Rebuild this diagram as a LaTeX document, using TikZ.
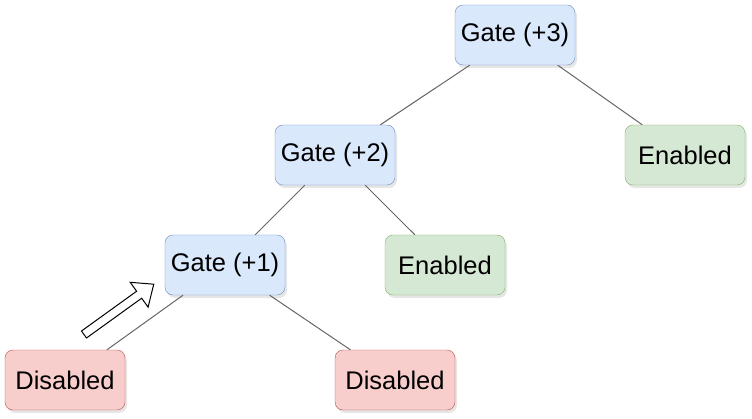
\documentclass[tikz,border=0pt]{standalone}
\usepackage{fontspec}
\setmainfont{Liberation Sans}
\usepackage{tikz}
\usetikzlibrary{shadows}

\definecolor{gatefill}{HTML}{DAE8FC}
\definecolor{gateline}{HTML}{6C8EBF}
\definecolor{onfill}{HTML}{D5E8D4}
\definecolor{online}{HTML}{82B366}
\definecolor{offfill}{HTML}{F8CECC}
\definecolor{offline}{HTML}{B85450}
\definecolor{edgegrey}{HTML}{666666}

\tikzset{
  box/.style={rounded corners=8pt, minimum width=120pt, minimum height=60pt,
    inner sep=0pt, font=\fontsize{25.5}{30}\selectfont,
    drop shadow={shadow xshift=2pt, shadow yshift=-3pt, opacity=0.2}},
  gatebox/.style={box, draw=gateline, fill=gatefill},
  onbox/.style={box, draw=online, fill=onfill},
  offbox/.style={box, draw=offline, fill=offfill},
  link/.style={draw=edgegrey, line width=1pt}
}

\begin{document}
\begin{tikzpicture}[x=1pt,y=1pt]
\useasboundingbox (0,0) rectangle (752,418);
% gates
\node[gatebox] (gate3) at (515,383) {Gate (+3)};
\node[gatebox] (gate2) at (335,263) {Gate (+2)};
\node[gatebox] (gate1) at (225,153) {Gate (+1)};
% leaves
\node[onbox] (enabledA) at (685,263) {Enabled};
\node[onbox] (enabledB) at (445,153) {Enabled};
\node[offbox] (disabledA) at (65,38) {Disabled};
\node[offbox] (disabledB) at (395,38) {Disabled};
% tree edges
\draw[link] (gate3) -- (gate2);
\draw[link] (gate3) -- (enabledA);
\draw[link] (gate2) -- (gate1);
\draw[link] (gate2) -- (enabledB);
\draw[link] (gate1) -- (disabledA);
\draw[link] (gate1) -- (disabledB);
% hollow pointer
\begin{scope}[shift={(84,83.5)}, rotate=35.8]
\draw[line width=1pt, fill=white] (0,-4.3) -- (68,-4.3) -- (68,-15.3) -- (86,0)
  -- (68,15.3) -- (68,4.3) -- (0,4.3) -- cycle;
\end{scope}
\end{tikzpicture}
\end{document}
